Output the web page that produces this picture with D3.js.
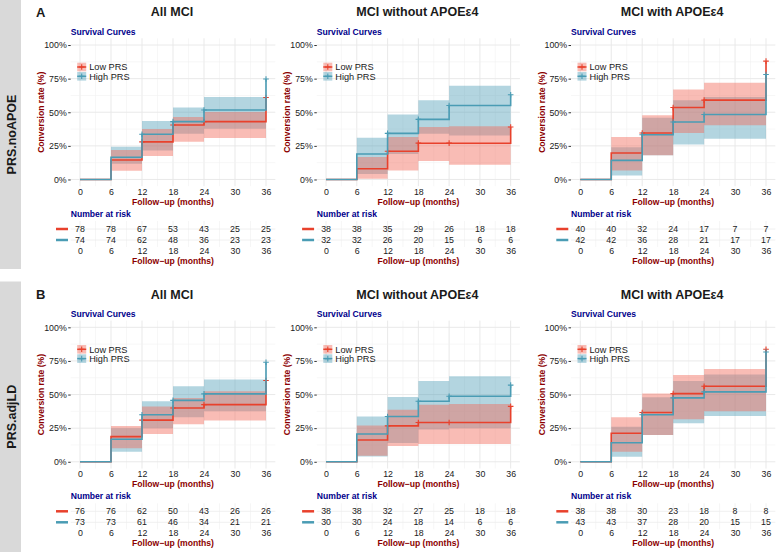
<!DOCTYPE html>
<html>
<head>
<meta charset="utf-8">
<script src="https://cdn.jsdelivr.net/npm/d3@7"></script>
<style>
body { margin: 0; background: #fff; }
svg text { font-family: "Liberation Sans", Arial, sans-serif; }
</style>
</head>
<body>
<svg id="chart" width="778" height="552"></svg>
<script>
const rowLabels = ["PRS.noAPOE", "PRS.adjLD"];
const rowTags = ["A", "B"];
const colTitles = ["All MCI", "MCI without APOE\u03b54", "MCI with APOE\u03b54"];
const groups = ["Low PRS", "High PRS"];
const stepTimes = [0, 6, 12, 18, 24, 36];
const censorTimes = [12, 18, 24, 36];
const xTicks = [0, 6, 12, 18, 24, 30, 36];
const yTicks = [0, 25, 50, 75, 100];

// cumulative conversion (%) at stepTimes; panels A1 A2 A3 B1 B2 B3
const lowEst = [
  [0, 14.5, 28, 40.5, 43, 61],
  [0, 8, 21, 27, 27, 39],
  [0, 19.7, 34.6, 53.5, 59, 88],
  [0, 18.7, 31, 40, 42.5, 60.5],
  [0, 16.2, 26.7, 29.2, 29.2, 41.2],
  [0, 21.2, 36.7, 50.7, 56.2, 83.7]
];
const lowLower = [
  [0, 6.5, 17.4, 28, 30.8, 30.8],
  [0, 0.5, 6.7, 13.7, 11, 11],
  [0, 6.7, 18, 34.6, 40.3, 40.3],
  [0, 10, 20.7, 28, 30.7, 30.7],
  [0, 4.5, 11.7, 13.2, 13.2, 13.2],
  [0, 7.5, 20, 31.7, 37.5, 37.5]
];
const lowUpper = [
  [0, 22, 37.5, 46.5, 50.2, 50.2],
  [0, 16.7, 31.6, 39, 39.5, 39.5],
  [0, 31.6, 47.8, 67, 72, 72],
  [0, 26.7, 41.2, 47.5, 52.5, 52.5],
  [0, 27, 38.7, 42.5, 43, 43],
  [0, 33.2, 50.7, 64.5, 69, 69]
];
const highEst = [
  [0, 16.5, 33.6, 43, 51.7, 74.7],
  [0, 19, 34.3, 44.7, 55, 63],
  [0, 14.2, 33.3, 42.8, 48.3, 78.1],
  [0, 16.7, 35, 45.7, 50.5, 74],
  [0, 20.7, 33.7, 45, 48.7, 57],
  [0, 14.2, 35, 47.5, 52, 81.7]
];
const highLower = [
  [0, 11.7, 21.6, 34, 37.8, 37.8],
  [0, 4, 19, 34, 32.8, 32.8],
  [0, 3, 18, 26, 30.3, 30.3],
  [0, 7.5, 25, 33.2, 37.5, 37.5],
  [0, 4, 14, 24, 25, 25],
  [0, 3.75, 20, 28.7, 34, 34]
];
const highUpper = [
  [0, 24.4, 43.5, 53.5, 61.4, 61.4],
  [0, 31, 48.3, 59, 69.7, 69.7],
  [0, 24, 46, 59, 61.4, 61.4],
  [0, 25, 45, 56.2, 61.2, 61.2],
  [0, 33.7, 48.2, 60, 63.7, 63.7],
  [0, 26, 48, 60, 65, 65]
];

// number at risk at xTicks
const riskLow = [
  [78, 78, 67, 53, 43, 25, 25],
  [38, 38, 35, 29, 26, 18, 18],
  [40, 40, 32, 24, 17, 7, 7],
  [76, 76, 62, 50, 43, 26, 26],
  [38, 38, 32, 27, 25, 18, 18],
  [38, 38, 30, 23, 18, 8, 8]
];
const riskHigh = [
  [74, 74, 62, 48, 36, 23, 23],
  [32, 32, 26, 20, 15, 6, 6],
  [42, 42, 36, 28, 21, 17, 17],
  [73, 73, 61, 46, 34, 21, 21],
  [30, 30, 24, 18, 14, 6, 6],
  [43, 43, 37, 28, 20, 15, 15]
];

const LINE = ["#E8412C", "#4A9CB4"];
const FILL = ["#F26B5B", "#4A9CB4"];
const FILL_OP = [0.45, 0.42];
const NAVY = "#00008B", DRED = "#8B0000", INK = "#1a1a1a";

const COLS = [[70.7, 275.3], [316.8, 519.9], [571, 775.3]];
const ROW_OFF = [0, 282.3];

var svg = d3.select("#chart");

// strips
var strips = [[0, 269], [281.5, 552]];
rowLabels.forEach((lab, r) => {
  svg.append("rect").attr("x", 0).attr("y", strips[r][0]).attr("width", 21)
    .attr("height", strips[r][1] - strips[r][0]).attr("fill", "#d9d9d9");
  var cy = (strips[r][0] + strips[r][1]) / 2;
  svg.append("text").attr("transform", `translate(11.5,${cy}) rotate(-90)`)
    .attr("text-anchor", "middle").attr("dy", "0.35em")
    .style("font-size", "12.5px").style("font-weight", "bold").attr("fill", INK)
    .text(lab);
  svg.append("text").attr("x", 36).attr("y", 12 + ROW_OFF[r]).attr("dy", "0.35em")
    .style("font-size", "13px").style("font-weight", "bold").attr("fill", INK)
    .text(rowTags[r]);
});

var plus = (g, cx, cy, col) => {
  g.append("path").attr("d", `M${cx - 2.8},${cy}H${cx + 2.8}M${cx},${cy - 2.8}V${cy + 2.8}`)
    .attr("stroke", col).attr("stroke-width", 1.1).attr("fill", "none");
}

function drawPanel(r, c) {
  var k = r * 3 + c, off = ROW_OFF[r];
  var left = COLS[c][0], right = COLS[c][1];
  var x = d3.scaleLinear().domain([-1.8, 37.8]).range([left, right]);
  var y = d3.scaleLinear().domain([-5, 105]).range([186.2 + off, 38.3 + off]);
  var g = svg.append("g");

  // title
  g.append("text").attr("x", (left + right) / 2 - 1).attr("y", 12 + off).attr("dy", "0.35em")
    .attr("text-anchor", "middle").style("font-size", "12.5px").style("font-weight", "bold")
    .attr("fill", INK).text(colTitles[c]);
  g.append("text").attr("x", left).attr("y", 32 + off).attr("dy", "0.35em")
    .style("font-size", "8.6px").style("font-weight", "bold").attr("fill", NAVY)
    .text("Survival Curves");

  // grid
  var grid = g.append("g");
  d3.range(0, 37, 3).forEach(t => {
    grid.append("line").attr("x1", x(t)).attr("x2", x(t)).attr("y1", y(-5)).attr("y2", y(105))
      .attr("stroke", t % 6 ? "#f2f2f2" : "#e6e6e6").attr("stroke-width", t % 6 ? 0.6 : 0.9);
  });
  d3.range(0, 101, 12.5).forEach(v => {
    grid.append("line").attr("x1", left).attr("x2", right).attr("y1", y(v)).attr("y2", y(v))
      .attr("stroke", v % 25 ? "#f2f2f2" : "#e6e6e6").attr("stroke-width", v % 25 ? 0.6 : 0.9);
  });

  // axes
  var ya = g.append("g").attr("transform", `translate(${left},0)`)
    .call(d3.axisLeft(y).tickValues(yTicks).tickFormat(d => d + "%").tickSize(2.5).tickPadding(1.5));
  ya.select(".domain").remove();
  ya.selectAll("line").attr("stroke", "#333");
  ya.selectAll("text").style("font-size", "8.8px").attr("fill", INK);

  var xa = g.append("g").attr("transform", `translate(0,${192 + off})`)
    .call(d3.axisBottom(x).tickValues(xTicks).tickSize(0).tickPadding(0));
  xa.select(".domain").remove();
  xa.selectAll("text").attr("dy", "0.35em").style("font-size", "8.8px").attr("fill", INK);

  g.append("text").attr("x", (left + right) / 2).attr("y", 201.5 + off).attr("dy", "0.35em")
    .attr("text-anchor", "middle").style("font-size", "8.6px").style("font-weight", "bold")
    .attr("fill", DRED).text("Follow\u2212up (months)");
  g.append("text").attr("transform", `translate(${left - 29.5},${y(50)}) rotate(-90)`)
    .attr("text-anchor", "middle").attr("dy", "0.35em")
    .style("font-size", "8.6px").style("font-weight", "bold").attr("fill", DRED)
    .text("Conversion rate (%)");

  // ribbons (high drawn first, low on top) and curves
  var est = [lowEst[k], highEst[k]], lo = [lowLower[k], highLower[k]], hi = [lowUpper[k], highUpper[k]];
  [1, 0].forEach(s => {
    var area = d3.area().curve(d3.curveStepAfter)
      .x((d, i) => x(stepTimes[i])).y0((d, i) => y(lo[s][i])).y1((d, i) => y(hi[s][i]));
    g.append("path").datum(stepTimes).attr("d", area)
      .attr("fill", FILL[s]).attr("fill-opacity", FILL_OP[s]);
  });
  [0, 1].forEach(s => {
    var line = d3.line().curve(d3.curveStepAfter)
      .x((d, i) => x(stepTimes[i])).y(d => y(d));
    g.append("path").datum(est[s]).attr("d", line)
      .attr("fill", "none").attr("stroke", LINE[s]).attr("stroke-width", 1.6);
    censorTimes.forEach(t => {
      plus(g, x(t), y(est[s][stepTimes.indexOf(t)]), LINE[s]);
    });
  });

  // legend
  groups.forEach((gr, s) => {
    var ly = 67 + s * 9.3 + off, lx = left + 6.5;
    g.append("rect").attr("x", lx).attr("y", ly - 4.3).attr("width", 9).attr("height", 8.6)
      .attr("fill", FILL[s]).attr("fill-opacity", FILL_OP[s]);
    g.append("line").attr("x1", lx).attr("x2", lx + 9).attr("y1", ly).attr("y2", ly)
      .attr("stroke", LINE[s]).attr("stroke-width", 1.5);
    plus(g, lx + 4.5, ly, LINE[s]);
    g.append("text").attr("x", lx + 12).attr("y", ly).attr("dy", "0.35em")
      .style("font-size", "9.2px").attr("fill", INK).text(gr);
  });

  // risk table
  g.append("text").attr("x", left).attr("y", 214 + off).attr("dy", "0.35em")
    .style("font-size", "8.6px").style("font-weight", "bold").attr("fill", NAVY)
    .text("Number at risk");
  var rows = [riskLow[k], riskHigh[k]];
  var ry = d3.scalePoint().domain([0, 1]).range([229 + off, 240 + off]);
  d3.range(0, 37, 3).forEach(t => {
    g.append("line").attr("x1", x(t)).attr("x2", x(t)).attr("y1", 221 + off).attr("y2", 247 + off)
      .attr("stroke", t % 6 ? "#f4f4f4" : "#ececec").attr("stroke-width", 0.8);
  });
  rows.forEach((vals, s) => {
    g.append("line").attr("x1", left).attr("x2", right).attr("y1", ry(s)).attr("y2", ry(s))
      .attr("stroke", "#ececec").attr("stroke-width", 0.8);
    g.append("line").attr("x1", left - 14.7).attr("x2", left - 2.7).attr("y1", ry(s)).attr("y2", ry(s))
      .attr("stroke", LINE[s]).attr("stroke-width", 2.5);
    g.selectAll(null).data(vals).enter().append("text")
      .attr("x", (d, i) => x(xTicks[i])).attr("y", ry(s)).attr("dy", "0.35em")
      .attr("text-anchor", "middle").style("font-size", "8.8px").attr("fill", INK)
      .text(d => d);
  });
  var xa2 = g.append("g").attr("transform", `translate(0,${251 + off})`)
    .call(d3.axisBottom(x).tickValues(xTicks).tickSize(0).tickPadding(0));
  xa2.select(".domain").remove();
  xa2.selectAll("text").attr("dy", "0.35em").style("font-size", "8.8px").attr("fill", INK);
  g.append("text").attr("x", (left + right) / 2).attr("y", 261 + off).attr("dy", "0.35em")
    .attr("text-anchor", "middle").style("font-size", "8.6px").style("font-weight", "bold")
    .attr("fill", DRED).text("Follow\u2212up (months)");
}

[0, 1].forEach(r => [0, 1, 2].forEach(c => drawPanel(r, c)));
</script>
</body>
</html>
